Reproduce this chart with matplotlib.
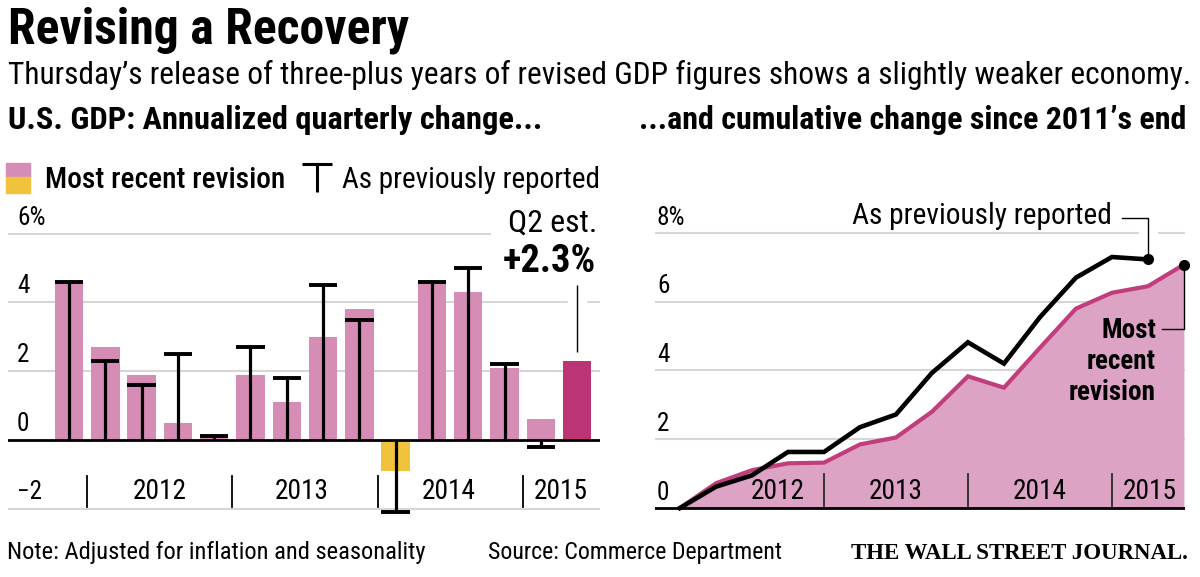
import matplotlib
matplotlib.use("Agg")
import matplotlib.pyplot as plt
from matplotlib import font_manager
import matplotlib.patheffects as pe
import matplotlib.transforms as mtrans
from matplotlib.lines import Line2D
from matplotlib.patches import Rectangle

# ---------------- data ----------------
quarters = ["2011Q4", "2012Q1", "2012Q2", "2012Q3", "2012Q4",
            "2013Q1", "2013Q2", "2013Q3", "2013Q4",
            "2014Q1", "2014Q2", "2014Q3", "2014Q4",
            "2015Q1", "2015Q2"]
revised = [4.6, 2.7, 1.9, 0.5, 0.1, 1.9, 1.1, 3.0, 3.8, -0.9, 4.6, 4.3, 2.1, 0.6, 2.3]
previous = [4.6, 2.3, 1.6, 2.5, 0.1, 2.7, 1.8, 4.5, 3.5, -2.1, 4.6, 5.0, 2.2, -0.2, None]
cum_revised = [0, 0.72, 1.1, 1.3, 1.32, 1.85, 2.05, 2.8, 3.83, 3.5, 4.66, 5.8, 6.26, 6.45, 7.08]
cum_previous = [0, 0.62, 0.95, 1.63, 1.63, 2.35, 2.72, 3.93, 4.82, 4.2, 5.55, 6.7, 7.3, 7.23]
years = ["2012", "2013", "2014", "2015"]
left_ticks = [-2, 0, 2, 4, 6]
right_ticks = [0, 2, 4, 6, 8]

# ---------------- style ----------------
PINK = "#d68db5"
DARK = "#bb3474"
YELLOW = "#f1c23b"
FILL = "#dca3c4"
PLINE = "#c23d7d"
GRID = "#d6d6d6"

names = {f.name for f in font_manager.fontManager.ttflist}
def pick(*c):
    for n in c:
        if n in names:
            return n
    return "DejaVu Sans"
SANS = pick("Roboto Condensed", "Liberation Sans Narrow", "Open Sans", "Lato")
SERIF = pick("Liberation Serif", "DejaVu Serif")
plt.rcParams["font.family"] = [SANS, "DejaVu Sans"]

W, H = 1200, 577
fig = plt.figure(figsize=(12, 5.77), dpi=100)
renderer = fig.canvas.get_renderer()

def fx(x):
    return x / W

def fy(y):
    return 1 - y / H

def fit(t, w):
    bb = t.get_window_extent(renderer=renderer)
    t.set_fontsize(t.get_fontsize() * w / bb.width)
    return t

def ftext(x, y, s, w=None, ha="left", **kw):
    t = fig.text(fx(x), fy(y), s, ha=ha, va="baseline", **kw)
    if w:
        fit(t, w)
    return t

# ---------------- headings ----------------
ftext(8, 43, "Revising a Recovery", 402, fontsize=34, fontweight="bold")
ftext(8, 84, "Thursday\u2019s release of three-plus years of revised GDP figures shows a slightly weaker economy.",
      1182, fontsize=20)
ftext(8, 129, "U.S. GDP: Annualized quarterly change...", 532, fontsize=18, fontweight="bold")
ftext(1186, 129, "...and cumulative change since 2011\u2019s end", 546, ha="right", fontsize=18, fontweight="bold")

# legend
fig.patches.append(Rectangle((fx(6), fy(177)), 24 / W, 14 / H, transform=fig.transFigure, color=PINK))
fig.patches.append(Rectangle((fx(6), fy(193)), 24 / W, 16 / H, transform=fig.transFigure, color=YELLOW))
ftext(45, 188, "Most recent revision", 240, fontsize=17, fontweight="medium")
fig.lines.append(Line2D([fx(302), fx(332)], [fy(164), fy(164)], transform=fig.transFigure,
                        color="black", lw=2.2, solid_capstyle="butt"))
fig.lines.append(Line2D([fx(317), fx(317)], [fy(164), fy(192)], transform=fig.transFigure,
                        color="black", lw=2.2, solid_capstyle="butt"))
ftext(342, 188, "As previously reported", 258, fontsize=17)

# footer
ftext(7, 559, "Note: Adjusted for inflation and seasonality", 420, fontsize=14)
ftext(488, 559, "Source: Commerce Department", 296, fontsize=14)
ftext(1188, 559, "THE WALL STREET JOURNAL.", 339, ha="right", fontsize=14,
      family=SERIF, fontweight="bold")

# ---------------- left chart ----------------
ax1 = fig.add_axes([fx(8), fy(519), 592 / W, 306 / H])
ax1.set_xlim(-1.68, 14.63)
ax1.set_ylim(-2.3, 6.6)
ax1.axis("off")

for v in left_ticks:
    if v == 0:
        continue
    xmax = 0.814 if v == 6 else 1.0
    ax1.axhline(v, xmax=xmax, color=GRID, lw=1.5, zorder=0)
ax1.axhline(0, color="black", lw=2.0, zorder=6)

xs = list(range(len(quarters)))
bar_colors = [DARK if i == len(quarters) - 1 else (YELLOW if v < 0 else PINK)
              for i, v in enumerate(revised)]
ax1.bar(xs, revised, width=0.785, color=bar_colors, zorder=2)

for i, p in enumerate(previous):
    if p is None:
        continue
    ax1.plot([i, i], [0, p], color="black", lw=2.3, solid_capstyle="butt", zorder=4)
    ax1.plot([i - 0.39, i + 0.39], [p, p], color="black", lw=2.8, solid_capstyle="butt", zorder=4)

# year labels (size fitted to the reference width)
year_pos_left = [2.5, 6.4, 10.45, 13.55]
t0 = ax1.text(year_pos_left[0], -1.73, years[0], ha="center", va="baseline", fontsize=19)
fit(t0, 54)
yfs = t0.get_fontsize()
tick_fs = yfs * 0.92
for yp, ylab in zip(year_pos_left[1:], years[1:]):
    ax1.text(yp, -1.73, ylab, ha="center", va="baseline", fontsize=yfs)
for sx in [0.5, 4.5, 8.5, 12.5]:
    ax1.plot([sx, sx], [-1.05, -1.95], color="black", lw=1.3, zorder=3)

bl1 = mtrans.blended_transform_factory(ax1.transAxes, ax1.transData)
for v in left_ticks:
    lab = f"{v}%" if v == 6 else ("\u2212" + str(-v) if v < 0 else str(v))
    ax1.text(9 / 592, v + 0.26 if v != -2 else -1.72, lab, transform=bl1, ha="left",
             va="baseline", fontsize=tick_fs, zorder=7)

# Q2 annotation
ax1.plot([14, 14], [2.55, 4.5], color="black", lw=1.0, zorder=3, solid_capstyle="butt",
         path_effects=[pe.Stroke(linewidth=14, foreground="white", capstyle="butt"), pe.Normal()])
ftext(597, 232, "Q2 est.", 89, ha="right", fontsize=18)
ftext(596, 272, "+2.3%", 93, ha="right", fontsize=22, fontweight="bold")

# ---------------- right chart ----------------
ax2 = fig.add_axes([fx(655), fy(512), 530 / W, 299 / H])
ax2.set_xlim(-0.694, 14.03)
ax2.set_ylim(-0.116, 8.58)
ax2.axis("off")

for v in right_ticks:
    if v == 0:
        continue
    ax2.axhline(v, color=GRID, lw=1.5, zorder=0)
ax2.axhline(0, color="black", lw=2.0, zorder=6)

xr = list(range(len(cum_revised)))
xp = list(range(len(cum_previous)))
ax2.fill_between(xr, 0, cum_revised, color=FILL, lw=0, zorder=1.5)
ax2.plot(xr, cum_revised, color=PLINE, lw=3.0, zorder=3, solid_joinstyle="miter")
ax2.plot(xp, cum_previous, color="black", lw=3.3, zorder=4, solid_joinstyle="miter")
ax2.plot([xp[-1]], [cum_previous[-1]], "o", color="black", ms=7, zorder=5, clip_on=False)
ax2.plot([xr[-1]], [cum_revised[-1]], "o", color="black", ms=7, zorder=5, clip_on=False)

bl2 = mtrans.blended_transform_factory(ax2.transAxes, ax2.transData)
for v in right_ticks:
    lab = f"{v}%" if v == 8 else str(v)
    ax2.text(2 / 530, v + 0.24, lab, transform=bl2, ha="left", va="baseline",
             fontsize=tick_fs, zorder=7)

year_pos_right = [2.72, 6.0, 10.0, 13.05]
for yp, ylab in zip(year_pos_right, years):
    ax2.text(yp, 0.27, ylab, ha="center", va="baseline", fontsize=yfs, zorder=7)
for sx in [4, 8, 12]:
    ax2.plot([sx, sx], [0, 1.0], color="#2a2a2a", lw=1.3, zorder=3.5)

# annotations on right
ax2.plot([12.28, 13, 13], [8.43, 8.43, cum_previous[-1]], color="black", lw=1.0, zorder=1,
         clip_on=False, path_effects=[pe.Stroke(linewidth=14, foreground="white"), pe.Normal()])
ftext(1112, 224, "As previously reported", 260, ha="right", fontsize=17)
ax2.plot([13.39, 14, 14], [5.2, 5.2, cum_revised[-1]], color="black", lw=1.0, zorder=3,
         clip_on=False)
lab_texts = []
for s, yb in zip(["Most", "recent", "revision"], [338, 369, 400]):
    lab_texts.append(ftext(1156, yb, s, ha="right", fontsize=17, fontweight="bold"))
fit(lab_texts[-1], 87)
rfs = lab_texts[-1].get_fontsize()
for tt in lab_texts:
    tt.set_fontsize(rfs)

fig.savefig("out.png", dpi=100)
